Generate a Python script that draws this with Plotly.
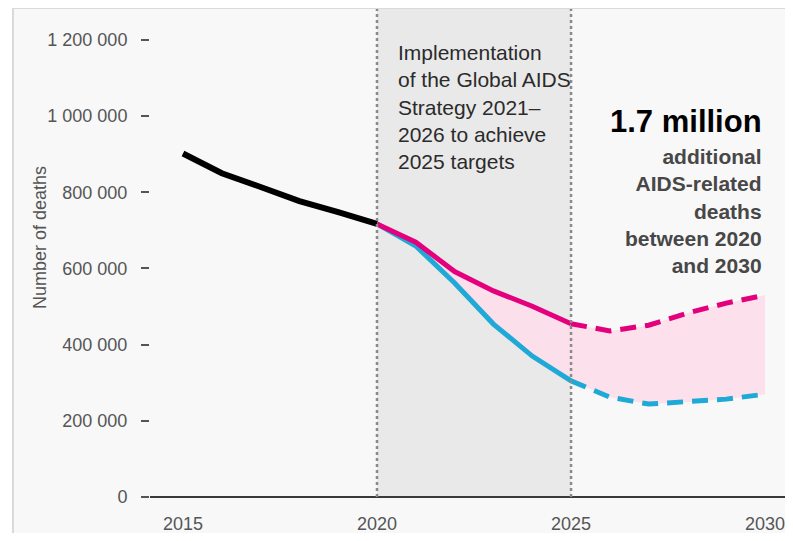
import plotly.graph_objects as go

# ---- data ----
years_hist = [2015, 2016, 2017, 2018, 2019, 2020]
deaths_hist = [902000, 850000, 814000, 777000, 748000, 717000]

years_proj = [2020, 2021, 2022, 2023, 2024, 2025, 2026, 2027, 2028, 2029, 2030]
deaths_current = [717000, 669000, 592000, 541000, 501000, 455000, 436000, 451000, 483000, 509000, 530000]
deaths_targets = [717000, 659000, 562000, 454000, 370000, 305000, 262000, 244000, 249000, 257000, 270000]

y_tickvals = [0, 200000, 400000, 600000, 800000, 1000000, 1200000]
y_ticktext = ["0", "200 000", "400 000", "600 000", "800 000", "1 000 000", "1 200 000"]
x_tickvals = [2015, 2020, 2025, 2030]

strategy_start, strategy_end = 2020, 2025

PINK = "#e4007c"
CYAN = "#1ea9d7"
FILL = "rgba(252,221,234,0.92)"
FONT = "Liberation Sans, Arial, sans-serif"

# the page body has an 8px margin; compensate so the picture lines up with the window
OFF = 8
W, H = 793 - OFF, 541 - 2 * OFF
ML, MT = 150 - OFF, 9 - OFF
PLOT_BOTTOM = 497 - OFF
MR, MB = 0, H - PLOT_BOTTOM
PW, PH = W - ML - MR, PLOT_BOTTOM - MT


def px(x):
    """window x pixel -> paper coordinate"""
    return (x - OFF - ML) / PW


def py(y):
    """window y pixel -> paper coordinate"""
    return (PLOT_BOTTOM - (y - OFF)) / PH


split = years_proj.index(strategy_end)

fig = go.Figure()
fig.add_trace(go.Scatter(x=years_proj, y=deaths_targets, mode="lines",
                         line=dict(width=0, color=CYAN), hoverinfo="skip", showlegend=False))
fig.add_trace(go.Scatter(x=years_proj, y=deaths_current, mode="lines", fill="tonexty",
                         fillcolor=FILL, line=dict(width=0, color=PINK),
                         hoverinfo="skip", showlegend=False))
fig.add_trace(go.Scatter(x=years_hist, y=deaths_hist, mode="lines",
                         line=dict(color="#000000", width=6), showlegend=False))
fig.add_trace(go.Scatter(x=years_proj[:split + 1], y=deaths_targets[:split + 1], mode="lines",
                         line=dict(color=CYAN, width=5), showlegend=False))
fig.add_trace(go.Scatter(x=years_proj[:split + 1], y=deaths_current[:split + 1], mode="lines",
                         line=dict(color=PINK, width=5), showlegend=False))
fig.add_trace(go.Scatter(x=years_proj[split:], y=deaths_targets[split:], mode="lines",
                         line=dict(color=CYAN, width=5, dash="16px,9px"), showlegend=False))
fig.add_trace(go.Scatter(x=years_proj[split:], y=deaths_current[split:], mode="lines",
                         line=dict(color=PINK, width=5, dash="16px,9px"), showlegend=False))

shapes = [
    # panel background
    dict(type="rect", xref="paper", yref="paper", x0=px(13), x1=px(805), y0=py(8), y1=py(560),
         fillcolor="#f8f8f8", line=dict(color="#dadada", width=2), layer="below"),
    # strategy shading
    dict(type="rect", xref="x", yref="paper", x0=strategy_start, x1=strategy_end, y0=0, y1=1,
         fillcolor="#e9e9e9", line=dict(width=0), layer="below"),
    dict(type="line", xref="x", yref="paper", x0=strategy_start, x1=strategy_start, y0=0, y1=1,
         line=dict(color="#8a8a8a", width=2.5, dash="dot"), layer="above"),
    dict(type="line", xref="x", yref="paper", x0=strategy_end, x1=strategy_end, y0=0, y1=1,
         line=dict(color="#8a8a8a", width=2.5, dash="dot"), layer="above"),
]

annotations = [
    dict(text="Implementation<br>of the Global AIDS<br>Strategy 2021–<br>2026 to achieve<br>2025 targets",
         xref="paper", yref="paper", x=px(396), y=py(39), xanchor="left", yanchor="top",
         align="left", showarrow=False, font=dict(family=FONT, size=21, color="#2b2b2b")),
    dict(text="<b>1.7 million</b>", xref="paper", yref="paper", x=px(764), y=py(121),
         xanchor="right", yanchor="middle", showarrow=False,
         font=dict(family=FONT, size=31, color="#000000")),
    dict(text="<b>additional<br>AIDS-related<br>deaths<br>between 2020<br>and 2030</b>",
         xref="paper", yref="paper", x=px(764), y=py(211), xanchor="right", yanchor="middle",
         align="right", showarrow=False, font=dict(family=FONT, size=21, color="#474747")),
    dict(text="Number of deaths", xref="paper", yref="paper", x=px(40), y=py(238),
         xanchor="center", yanchor="middle", textangle=-90, showarrow=False,
         font=dict(family=FONT, size=18, color="#555555")),
]

fig.update_layout(
    width=W, height=H,
    margin=dict(l=ML, r=MR, t=MT, b=MB, pad=0),
    paper_bgcolor="#ffffff",
    plot_bgcolor="rgba(0,0,0,0)",
    shapes=shapes,
    annotations=annotations,
    showlegend=False,
    xaxis=dict(range=[2014.15, 2030.72], tickvals=x_tickvals, showgrid=False, zeroline=False,
               showline=False, ticks="", ticklabelstandoff=14,
               tickfont=dict(family=FONT, size=18, color="#555555"), fixedrange=True),
    yaxis=dict(range=[0, 1281300], tickvals=y_tickvals, ticktext=y_ticktext, showgrid=False,
               zeroline=True, zerolinecolor="#3a3a3a", zerolinewidth=2, showline=False,
               ticks="outside", ticklen=8, tickwidth=1.5, tickcolor="#555555",
               ticklabelstandoff=10,
               tickfont=dict(family=FONT, size=18, color="#555555"), fixedrange=True),
)

fig.write_html("out.html")
